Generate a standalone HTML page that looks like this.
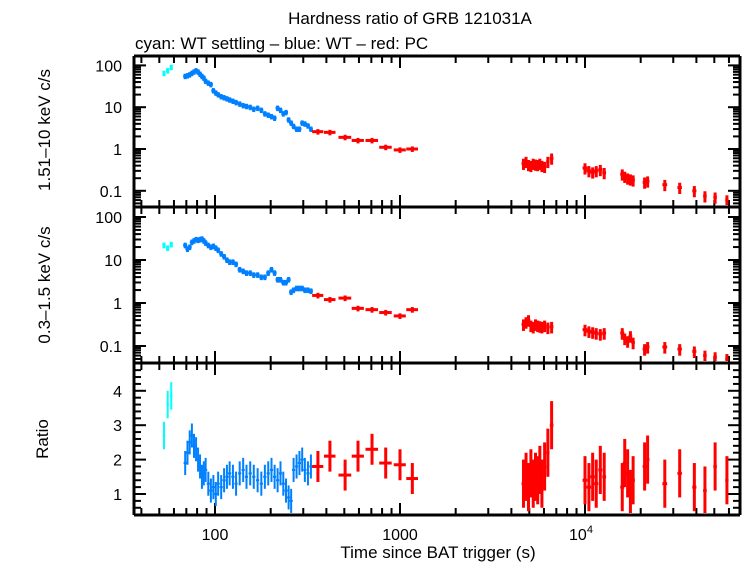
<!DOCTYPE html>
<html><head><meta charset="utf-8"><style>
body{margin:0;background:#fff}
svg{display:block;font-family:"Liberation Sans",sans-serif}
</style></head><body>
<svg id="c" width="742" height="566" xmlns="http://www.w3.org/2000/svg">
<text x="410" y="24" font-size="17" text-anchor="middle">Hardness ratio of GRB 121031A</text>
<text x="135" y="49" font-size="17">cyan: WT settling – blue: WT – red: PC</text>
<text x="438" y="558" font-size="17" text-anchor="middle">Time since BAT trigger (s)</text>
<text transform="translate(50,130) rotate(-90)" font-size="17" text-anchor="middle">1.51–10 keV c/s</text>
<text transform="translate(50,285) rotate(-90)" font-size="17" text-anchor="middle">0.3–1.5 keV c/s</text>
<text transform="translate(48,439) rotate(-90)" font-size="17" text-anchor="middle">Ratio</text>
</svg>
<script>
const cyanT=[53,55.5,58];
const cyanHard=[65,75,90];
const cyanSoft=[22,19,23];
const cyanRatio=[2.7,3.6,3.85];
const wtT=[69,71,73,75,77,79,81,83,85,87,89,92,95,98,101,104,108,112,116,120,125,130,136,142,148,155,162,170,178,186,194,202,210,218,226,234,242,250,258,266,276,286,296,306,318,330];
const wtHard=[55,57,60,65,70,75,70,62,55,50,42,38,35,25,22,20,18,17,16,15,14,13,12,11,10.5,10,9,9.5,8.5,7,6.5,6,5.5,9.5,8.5,7,7.5,5,4.2,3.5,3,3,4.2,4,3.6,3];
const wtSoft=[22,18,20,26,28,30,29,30,31,28,25,22,20,21,19,17,14,12,10,9,9,8,6,5.5,5,5,4.5,4.5,4,4,5,6,5,3.5,3.5,3,3,3.5,1.8,2,2.2,2.2,2.2,2,2,1.9];
const wtRatio=[1.9,2.2,2.5,2.7,2.4,2.3,2.0,1.8,1.5,1.6,1.7,1.3,1.1,1.2,1.0,1.3,1.2,1.4,1.5,1.6,1.5,1.3,1.6,1.7,1.5,1.6,1.5,1.4,1.3,1.5,1.6,1.7,1.5,1.4,1.6,1.3,1.1,0.9,0.8,1.7,1.8,1.9,2.0,1.7,1.6,1.8];
const pcT=[360,418,505,593,706,837,1000,1166,4650,4800,4950,5100,5250,5400,5550,5700,5850,6050,6300,6600,10000,10500,11000,11500,12100,12700,15900,16400,17000,17600,18200,21000,21800,27000,32500,39000,44500,50500,58500];
const pcTerr=[25,30,40,45,55,65,75,85,110,110,110,110,110,110,110,110,110,120,130,150,300,300,300,300,300,300,400,400,400,400,400,500,500,800,900,1000,1000,1100,1200];
const pcHard=[2.6,2.5,1.9,1.6,1.6,1.1,0.95,1.0,0.45,0.5,0.42,0.4,0.45,0.43,0.42,0.45,0.4,0.38,0.5,0.6,0.35,0.3,0.28,0.3,0.32,0.27,0.25,0.22,0.2,0.19,0.18,0.16,0.17,0.14,0.12,0.1,0.075,0.07,0.06];
const pcSoft=[1.5,1.2,1.3,0.75,0.7,0.6,0.5,0.7,0.32,0.36,0.4,0.3,0.28,0.32,0.3,0.29,0.28,0.3,0.27,0.28,0.24,0.22,0.21,0.2,0.19,0.2,0.2,0.15,0.13,0.17,0.12,0.085,0.095,0.095,0.085,0.075,0.06,0.055,0.05];
const pcRatio=[1.8,2.1,1.55,2.1,2.3,1.9,1.85,1.45,1.3,1.5,1.2,1.6,1.3,1.5,1.4,1.7,1.3,1.8,2.2,3.0,1.4,1.2,1.5,1.3,1.7,1.5,1.2,1.9,1.6,1.0,1.4,1.8,2.0,1.3,1.6,1.2,1.1,1.8,1.4];

const svg=document.getElementById('c');
const NS='http://www.w3.org/2000/svg';
const X0=134,X1=740;
const xs=t=>215+(Math.log10(t)-2)*185;
const panels=[
 {top:56,bot:207,type:'log',y:v=>149-Math.log10(v)*41.8,ticks:[0.1,1,10,100],lab:['0.1','1','10','100'],name:'hard'},
 {top:207,bot:363,type:'log',y:v=>303-Math.log10(v)*43,ticks:[0.1,1,10,100],lab:['0.1','1','10','100'],name:'soft'},
 {top:363,bot:515,type:'lin',y:v=>494-(v-1)*34.4,ticks:[1,2,3,4],lab:['1','2','3','4'],name:'ratio'}
];
function ln(x1,y1,x2,y2,c,w,name){
 const l=document.createElementNS(NS,'line');
 l.setAttribute('x1',x1);l.setAttribute('y1',y1);l.setAttribute('x2',x2);l.setAttribute('y2',y2);
 l.setAttribute('stroke',c);l.setAttribute('stroke-width',w);
 
 
 svg.appendChild(l);return l;
}
function txt(x,y,s,anchor,name){
 const t=document.createElementNS(NS,'text');
 t.setAttribute('x',x);t.setAttribute('y',y);t.setAttribute('font-size','16');t.setAttribute('text-anchor',anchor);
 t.textContent=s;
 
 
 svg.appendChild(t);return t;
}
panels.forEach(p=>{
 for(let d=1;d<=4;d++)for(let m=1;m<10;m++){
  const t=m*Math.pow(10,d);const x=xs(t);
  if(x<X0+1||x>X1-1)continue;
  const L=m===1?12:7;
  ln(x,p.top,x,p.top+L,'#000',2,'x-tick');
  ln(x,p.bot,x,p.bot-L,'#000',2,'x-tick');
 }
 if(p.type==='log'){
  for(let d=-2;d<=2;d++)for(let m=1;m<10;m++){
   const v=m*Math.pow(10,d);const y=p.y(v);
   if(y<p.top+1||y>p.bot-1)continue;
   const L=m===1?12:7;
   ln(X0,y,X0+L,y,'#000',2,'y-tick');ln(X1,y,X1-L,y,'#000',2,'y-tick');
  }
 }else{
  for(let v=0.4;v<=4.85;v+=0.2){
   const y=p.y(v);if(y<p.top+1||y>p.bot-1)continue;
   const major=Math.abs(v-Math.round(v))<0.01;const L=major?12:7;
   ln(X0,y,X0+L,y,'#000',2,'y-tick');ln(X1,y,X1-L,y,'#000',2,'y-tick');
  }
 }
 p.ticks.forEach((v,i)=>txt(X0-12,p.y(v)+6,p.lab[i],'end','y-tick-label-'+p.name));
});
ln(X0,56,X1,56,'#000',3,'plot-frame-top');
ln(X0,515,X1,515,'#000',3,'plot-frame-bottom');
ln(X0,56,X0,515,'#000',3,'plot-frame-left');
ln(X1,56,X1,515,'#000',3,'plot-frame-right');
ln(X0,207,X1,207,'#000',3,'panel-divider');
ln(X0,363,X1,363,'#000',3,'panel-divider');
txt(xs(100),540,'100','middle','x-tick-label');
txt(xs(1000),540,'1000','middle','x-tick-label');
const t4=txt(xs(10000)-4,540,'10','middle','x-tick-label');
const sup=document.createElementNS(NS,'tspan');sup.setAttribute('dy','-7');sup.setAttribute('font-size','11');sup.textContent='4';t4.appendChild(sup);

function series(T,V,p,col,tE,yE,w,name,lin){
 T.forEach((t,i)=>{
  const v=V[i];const x=xs(t);const y=p.y(v);
  const te=tE(i,t);
  ln(xs(t-te),y,xs(t+te),y,col,w,name+'-xerr');
  const lo=lin?v-yE(i):v*(1-yE(i)),hi=lin?v+yE(i):v*(1+yE(i));
  ln(x,Math.min(p.bot-2,p.y(lo)),x,Math.max(p.top+2,p.y(hi)),col,w,name+'-yerr');
 });
}
const CY='#00ffff',BL='#0080ff',RD='#ff0000';
series(cyanT,cyanHard,panels[0],CY,()=>1,()=>0.15,3,'cyan-hard');
series(cyanT,cyanSoft,panels[1],CY,()=>1,()=>0.15,3,'cyan-soft');
series(cyanT,cyanRatio,panels[2],CY,()=>0.8,()=>0.4,2,'cyan-ratio',true);
series(wtT,wtHard,panels[0],BL,(i,t)=>t*0.025,()=>0.15,3,'wt-hard');
series(wtT,wtSoft,panels[1],BL,(i,t)=>t*0.025,()=>0.15,3,'wt-soft');
series(wtT,wtRatio,panels[2],BL,(i,t)=>t*0.02,()=>0.35,2,'wt-ratio',true);
series(pcT,pcHard,panels[0],RD,i=>pcTerr[i],i=>i<8?0.15:0.3,3,'pc-hard');
series(pcT,pcSoft,panels[1],RD,i=>pcTerr[i],i=>i<8?0.15:0.3,3,'pc-soft');
series(pcT,pcRatio,panels[2],RD,i=>pcTerr[i],i=>i<8?0.45:0.7,3,'pc-ratio',true);
</script>
</body></html>
